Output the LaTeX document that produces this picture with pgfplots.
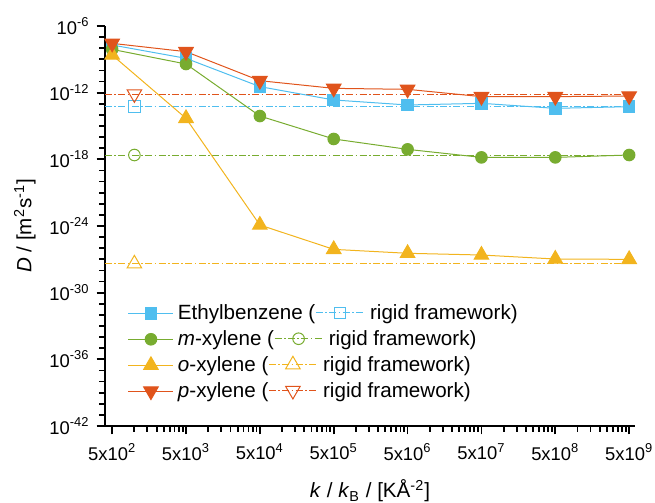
\documentclass[border=0pt]{standalone}
\usepackage{pgfplots}
\pgfplotsset{compat=1.18}
\usepackage{fontspec}
\setmainfont{Liberation Sans}
\usetikzlibrary{plotmarks}
\definecolor{cEB}{HTML}{4FBEEF}
\definecolor{cM}{HTML}{78AC30}
\definecolor{cO}{HTML}{F2B41E}
\definecolor{cP}{HTML}{E0541C}
\tikzset{rigiddash/.style={dash pattern=on 3.5pt off 1.2pt on 0.8pt off 1.2pt}}
\newcommand{\rigidimg}[3]{\tikz[baseline=-0.6ex]{\draw[#1,line width=0.5pt,rigiddash] (0pt,0pt)--(24pt,0pt); \path[#1,solid] plot[mark=#2,mark size=#3,mark options={solid,fill=white,line width=0.5pt,#1}] coordinates {(12pt,0pt)};}}
\newcommand{\rigidimgdown}[2]{\tikz[baseline=-0.6ex]{\draw[#1,line width=0.5pt,rigiddash] (0pt,0pt)--(24pt,0pt); \path[#1,solid] plot[mark=triangle,mark size=#2,mark options={solid,fill=white,line width=0.5pt,rotate=180,#1}] coordinates {(12pt,0pt)};}}
\begin{document}
\begin{tikzpicture}
\begin{axis}[
  name=ax,
  scale only axis,
  width=265pt, height=200pt,
  xmode=log, ymode=log,
  xmin=400, xmax=6e9,
  ymin=1e-42, ymax=1e-6,
  clip=false,
  axis x line*=bottom, axis y line*=left,
  axis line style={line width=1pt},
  tick align=outside,
  major tick length=4.2pt, minor tick length=2.8pt,
  tick style={line width=0.9pt,black},
  xtick={500,5000,5e4,5e5,5e6,5e7,5e8,5e9},
  xticklabels={5x10\textsuperscript{2},5x10\textsuperscript{3},5x10\textsuperscript{4},5x10\textsuperscript{5},5x10\textsuperscript{6},5x10\textsuperscript{7},5x10\textsuperscript{8},5x10\textsuperscript{9}},
  minor xtick={1000,1500,2000,2500,3000,3500,4000,4500,
    1e4,1.5e4,2e4,2.5e4,3e4,3.5e4,4e4,4.5e4,
    1e5,1.5e5,2e5,2.5e5,3e5,3.5e5,4e5,4.5e5,
    1e6,1.5e6,2e6,2.5e6,3e6,3.5e6,4e6,4.5e6,
    1e7,1.5e7,2e7,2.5e7,3e7,3.5e7,4e7,4.5e7,
    1e8,1.5e8,2e8,2.5e8,3e8,3.5e8,4e8,4.5e8,
    1e9,1.5e9,2e9,2.5e9,3e9,3.5e9,4e9,4.5e9},
  ytick={1e-42,1e-36,1e-30,1e-24,1e-18,1e-12,1e-6},
  yticklabels={10\textsuperscript{-42},10\textsuperscript{-36},10\textsuperscript{-30},10\textsuperscript{-24},10\textsuperscript{-18},10\textsuperscript{-12},10\textsuperscript{-6}},
  minor ytick={1e-41,1e-40,1e-39,1e-38,1e-37,1e-35,1e-34,1e-33,1e-32,1e-31,1e-29,1e-28,1e-27,1e-26,1e-25,1e-23,1e-22,1e-21,1e-20,1e-19,1e-17,1e-16,1e-15,1e-14,1e-13,1e-11,1e-10,1e-9,1e-8,1e-7},
  tick label style={font=\fontsize{9.2}{11}\selectfont},
  xticklabel style={yshift=-1pt},
  label style={font=\fontsize{10.3}{12}\selectfont},
  xlabel={\textit{k} / \textit{k}\textsubscript{B} / [KÅ\textsuperscript{-2}]},
  ylabel={\textit{D} / [m\textsuperscript{2}s\textsuperscript{-1}]},
  xlabel style={yshift=-3pt},
  ylabel style={yshift=0pt},
  legend style={draw=none, fill=none, at={(0.035,0.325)}, anchor=north west,
    font=\fontsize{10.3}{12}\selectfont, row sep=0pt, inner sep=2pt},
  legend cell align=left,
  legend image code/.code={\draw[mark repeat=2,mark phase=2] plot coordinates {(0pt,0pt)(11.25pt,0pt)(22.5pt,0pt)};},
]
% rigid framework reference lines
\addplot[cEB, line width=0.5pt, rigiddash, forget plot] coordinates {(400,5.5e-14) (5e9,5.5e-14)};
\addplot[cM, line width=0.5pt, rigiddash, forget plot] coordinates {(400,2.45e-18) (5e9,2.45e-18)};
\addplot[cO, line width=0.5pt, rigiddash, forget plot] coordinates {(400,4e-28) (5e9,4e-28)};
\addplot[cP, line width=0.5pt, rigiddash, forget plot] coordinates {(400,7.6e-13) (5e9,7.6e-13)};
\addplot[only marks, cEB, mark=square, mark size=2.9pt, mark options={fill=white,line width=0.5pt}, forget plot] coordinates {(1000,5.5e-14)};
\addplot[only marks, cM, mark=o, mark size=2.9pt, mark options={fill=white,line width=0.5pt}, forget plot] coordinates {(1000,2.45e-18)};
\addplot[only marks, cO, mark=triangle, mark size=4.2pt, mark options={fill=white,line width=0.5pt}, forget plot] coordinates {(1000,4e-28)};
\addplot[only marks, cP, mark=triangle, mark size=4.2pt, mark options={fill=white,line width=0.5pt,rotate=180}, forget plot] coordinates {(1000,7.6e-13)};
% flexible framework
\addplot[cEB, line width=0.5pt, mark=square*, mark size=2.9pt, mark options={fill=cEB}] coordinates {
(5e2,1.95e-8) (5e3,1.23e-9) (5e4,3.5e-12) (5e5,2.2e-13) (5e6,7.8e-14) (5e7,1.1e-13) (5e8,3.9e-14) (5e9,5.5e-14)};
\addlegendentry{Ethylbenzene (\rigidimg{cEB}{square}{2.9pt} rigid framework)}
\addplot[cM, line width=0.5pt, mark=*, mark size=2.9pt, mark options={fill=cM}] coordinates {
(5e2,7.9e-9) (5e3,3.8e-10) (5e4,7.9e-15) (5e5,6.8e-17) (5e6,7.9e-18) (5e7,1.5e-18) (5e8,1.5e-18) (5e9,2.45e-18)};
\addlegendentry{\textit{m}-xylene (\rigidimg{cM}{o}{2.9pt} rigid framework)}
\addplot[cO, line width=0.5pt, mark=triangle*, mark size=4.2pt, mark options={fill=cO}] coordinates {
(5e2,2.45e-9) (5e3,4.9e-15) (5e4,1.23e-24) (5e5,7.9e-27) (5e6,3.5e-27) (5e7,2.45e-27) (5e8,1.07e-27) (5e9,1.0e-27)};
\addlegendentry{\textit{o}-xylene (\rigidimg{cO}{triangle}{4.2pt} rigid framework)}
\addplot[cP, line width=0.5pt, mark=triangle*, mark size=4.2pt, mark options={fill=cP,rotate=180}] coordinates {
(5e2,2.75e-8) (5e3,4.9e-9) (5e4,1.2e-11) (5e5,2.45e-12) (5e6,2.0e-12) (5e7,4.4e-13) (5e8,4.4e-13) (5e9,5.0e-13)};
\addlegendentry{\textit{p}-xylene (\rigidimgdown{cP}{4.2pt} rigid framework)}
\end{axis}
\pgfresetboundingbox
\path (ax.south west) ++(-52.5pt,-38.5pt) rectangle ++(327.5pt,251.5pt);
\end{tikzpicture}
\end{document}
